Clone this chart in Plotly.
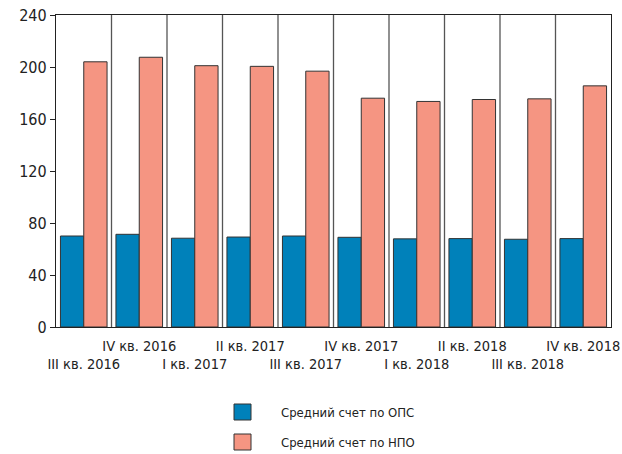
import plotly.graph_objects as go

categories = ["III кв. 2016", "IV кв. 2016", "I кв. 2017", "II кв. 2017", "III кв. 2017",
              "IV кв. 2017", "I кв. 2018", "II кв. 2018", "III кв. 2018", "IV кв. 2018"]
ops_values = [70.0, 71.3, 68.3, 69.2, 70.0, 69.0, 67.8, 68.0, 67.5, 68.0]
npo_values = [204.0, 207.5, 201.0, 200.5, 196.8, 176.0, 173.5, 175.0, 175.5, 185.5]
series_names = ["Средний счет по ОПС", "Средний счет по НПО"]
y_ticks = [0, 40, 80, 120, 160, 200, 240]

FONT = "DejaVu Sans Condensed, Roboto, sans-serif"
C_BLUE = "#0081BA"
C_SALMON = "#F59582"
EDGE = "#333333"

W, H = 622, 454
ML, MR, MT, MB = 56, 11, 15, 127
PW, PH = W - ML - MR, H - MT - MB

x_idx = list(range(len(categories)))
ticktext = [(c if i % 2 == 1 else "<br>" + c) for i, c in enumerate(categories)]

fig = go.Figure()
fig.add_trace(go.Bar(x=x_idx, y=ops_values, name=series_names[0],
                     marker=dict(color=C_BLUE, line=dict(color=EDGE, width=1)), showlegend=False))
fig.add_trace(go.Bar(x=x_idx, y=npo_values, name=series_names[1],
                     marker=dict(color=C_SALMON, line=dict(color=EDGE, width=1)), showlegend=False))

shapes = []
for i in range(len(categories) - 1):
    shapes.append(dict(type="line", xref="x", yref="paper", x0=i + 0.5, x1=i + 0.5, y0=0, y1=1,
                       line=dict(color="#555555", width=1.3), layer="below"))

# custom legend (pixel positions converted to paper coordinates)
def px_x(px):
    return (px - ML) / PW

def px_y(py):
    return (H - MB - py) / PH

leg_centers = [412, 442]
annotations = []
for name, col, cy in zip(series_names, [C_BLUE, C_SALMON], leg_centers):
    shapes.append(dict(type="rect", xref="paper", yref="paper",
                       x0=px_x(234), x1=px_x(251), y0=px_y(cy + 8), y1=px_y(cy - 8),
                       fillcolor=col, line=dict(color=EDGE, width=1)))
    annotations.append(dict(xref="paper", yref="paper", x=px_x(279), y=px_y(cy), text=name,
                            showarrow=False, xanchor="left", yanchor="middle",
                            font=dict(family=FONT, size=13, color="#222")))

fig.update_layout(
    width=W, height=H,
    margin=dict(l=ML, r=MR, t=MT, b=MB, autoexpand=False),
    paper_bgcolor="white", plot_bgcolor="white",
    barmode="group", bargap=0.16, bargroupgap=0,
    font=dict(family=FONT, size=15, color="#222"),
    shapes=shapes, annotations=annotations,
    xaxis=dict(tickmode="array", tickvals=x_idx, ticktext=ticktext, range=[-0.5, len(categories) - 0.5],
               showgrid=False, showline=True, linecolor="#222", linewidth=1.3, mirror=True,
               ticks="", tickangle=0, automargin=False, ticklabelstandoff=5,
               ticklabeloverflow="allow",
               tickfont=dict(family=FONT, size=14.5, color="#222")),
    yaxis=dict(range=[0, 240], tickvals=y_ticks, showgrid=False, zeroline=False,
               showline=True, linecolor="#222", linewidth=1.3, mirror=True,
               ticks="outside", ticklen=5, tickcolor="#222", automargin=False,
               tickfont=dict(family=FONT, size=16, color="#222")),
)

fig.write_html("out.html", config={"displayModeBar": False},
               post_script="document.body.style.margin='0';")
